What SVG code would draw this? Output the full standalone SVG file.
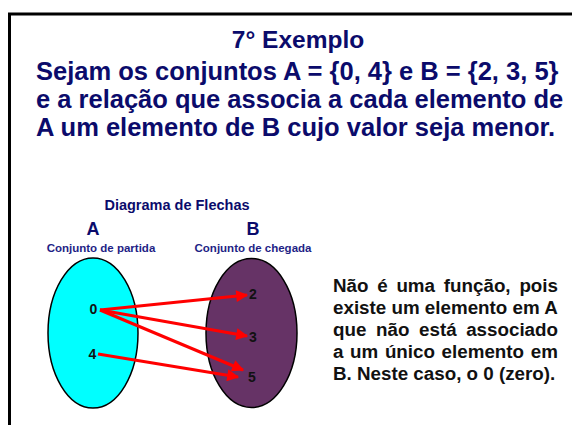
<svg xmlns="http://www.w3.org/2000/svg" width="572" height="425" viewBox="0 0 572 425">
<defs>
<style>
.t{font-family:"Liberation Sans",Arial,sans-serif;font-weight:bold}
.navy{fill:#0b0b6b}
.num{font-family:"Liberation Sans",Arial,sans-serif;font-weight:bold;font-size:14px;fill:#111;text-anchor:middle}
.arr{stroke:#ff0000;stroke-width:3;fill:none;marker-end:url(#ah)}
.p{font-family:"Liberation Sans",Arial,sans-serif;font-weight:bold;font-size:18.8px;fill:#111}
</style>
<marker id="ah" viewBox="0 0 10 10" refX="9" refY="5" markerWidth="5.5" markerHeight="4" orient="auto" markerUnits="strokeWidth">
<path d="M0,0 L10,5 L0,10 Z" fill="#ff0000"/>
</marker>
</defs>
<rect width="572" height="425" fill="#ffffff"/>
<rect x="9.5" y="14" width="580" height="440" fill="none" stroke="#000" stroke-width="3"/>
<g id="title">
<text class="t navy" x="298" y="47.5" font-size="24.5" text-anchor="middle">7° Exemplo</text>
<text class="t navy" x="36" y="80" font-size="25.5">Sejam os conjuntos A = {0, 4} e B = {2, 3, 5}</text>
<text class="t navy" x="36" y="108" font-size="25.5">e a relação que associa a cada elemento de</text>
<text class="t navy" x="36" y="135.5" font-size="25.5">A um elemento de B cujo valor seja menor.</text>
</g>
<g id="labels">
<text class="t navy" x="177" y="210" font-size="14.5" text-anchor="middle">Diagrama de Flechas</text>
<text class="t navy" x="93" y="235" font-size="18" text-anchor="middle">A</text>
<text class="t navy" x="253" y="235" font-size="18" text-anchor="middle">B</text>
<text class="t" x="101" y="252" font-size="11.5" text-anchor="middle" fill="#1f1f86">Conjunto de partida</text>
<text class="t" x="253" y="252" font-size="11.5" text-anchor="middle" fill="#1f1f86">Conjunto de chegada</text>
</g>
<g id="setA">
<ellipse cx="93" cy="333" rx="45" ry="75" fill="#00ffff" stroke="#000" stroke-width="1.5"/>
<text class="num" x="93.5" y="314">0</text>
<text class="num" x="92.5" y="359">4</text>
</g>
<g id="setB">
<ellipse cx="251.5" cy="333" rx="45.5" ry="74.5" fill="#663366" stroke="#000" stroke-width="1.5"/>
<text class="num" x="253" y="299">2</text>
<text class="num" x="253" y="342">3</text>
<text class="num" x="252" y="382">5</text>
</g>
<g id="connectors">
<line class="arr" x1="100" y1="310" x2="247" y2="295"/>
<line class="arr" x1="100" y1="310" x2="247" y2="336"/>
<line class="arr" x1="100" y1="310" x2="243" y2="370"/>
<line class="arr" x1="98" y1="354" x2="238" y2="377"/>
</g>
<g id="note">
<text class="p" y="292"><tspan x="333">Não</tspan><tspan x="377.2">é</tspan><tspan x="396.4">uma</tspan><tspan x="443.8">função,</tspan><tspan x="558" text-anchor="end">pois</tspan></text>
<text class="p" x="333" y="314">existe um elemento em A</text>
<text class="p" y="336"><tspan x="333">que</tspan><tspan x="376">não</tspan><tspan x="419">está</tspan><tspan x="558" text-anchor="end">associado</tspan></text>
<text class="p" y="358"><tspan x="333">a</tspan><tspan x="350.1">um</tspan><tspan x="384.9">único</tspan><tspan x="441.6">elemento</tspan><tspan x="558" text-anchor="end">em</tspan></text>
<text class="p" x="333" y="380">B. Neste caso, o 0 (zero).</text>
</g>
</svg>
